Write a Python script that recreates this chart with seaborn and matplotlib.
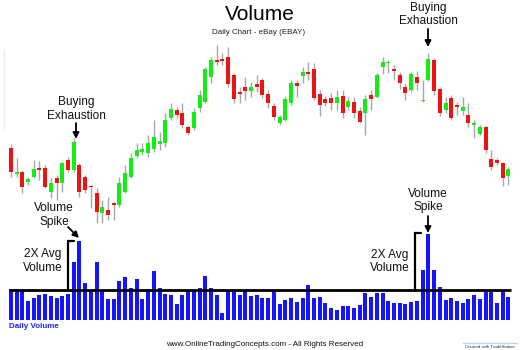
import numpy as np
import pandas as pd
import matplotlib
matplotlib.use("Agg")
import matplotlib.pyplot as plt
import seaborn as sns

# Daily OHLC prices (USD) and volume (millions of shares)
opens = [30.2, 27.6, 27.8, 26.8, 27.3, 28.2, 28.2, 25.8, 27.2, 26.7,
         29.0, 28.0, 28.5, 27.3, 26.4, 25.7, 23.7, 24.0, 24.7, 24.5,
         25.8, 27.3, 29.4, 29.8, 29.7, 30.1, 30.6, 30.7, 33.2, 34.0,
         33.7, 32.3, 32.2, 34.2, 34.8, 37.3, 39.0, 39.1, 39.3, 37.5,
         35.8, 36.3, 35.9, 36.6, 37.0, 35.6, 34.4, 32.7, 33.0, 34.7,
         36.7, 37.4, 37.8, 38.1, 35.6, 35.1, 35.2, 34.7, 35.4, 34.3,
         34.8, 33.9, 33.7, 35.5, 35.3, 38.3, 38.7, 38.1, 37.5, 36.3,
         36.0, 37.3, 34.9, 37.0, 39.0, 36.1, 34.0, 35.2, 34.5, 33.9,
         33.5, 32.5, 31.6, 32.3, 29.1, 29.0, 28.7, 27.4]
highs = [30.6, 29.2, 28.0, 27.3, 29.0, 28.9, 28.5, 27.2, 27.5, 28.8,
         29.3, 31.2, 28.7, 27.5, 26.5, 26.2, 25.0, 25.3, 24.8, 27.3,
         28.5, 29.7, 30.7, 30.7, 31.5, 33.0, 31.8, 33.7, 34.7, 34.3,
         34.7, 32.5, 34.2, 36.0, 38.3, 39.3, 40.5, 39.7, 40.3, 37.7,
         36.3, 37.3, 36.8, 37.5, 37.2, 36.0, 34.7, 33.5, 35.4, 37.0,
         37.0, 38.3, 38.8, 38.7, 36.0, 35.4, 35.7, 36.0, 36.0, 35.3,
         35.3, 34.3, 35.5, 36.0, 37.7, 39.3, 39.0, 38.5, 37.8, 36.7,
         37.8, 37.9, 37.0, 39.7, 39.2, 36.3, 35.3, 35.5, 34.8, 35.3,
         34.7, 33.0, 32.5, 32.4, 30.0, 29.2, 28.8, 28.3]
lows = [27.3, 27.3, 25.7, 26.5, 27.2, 27.0, 26.2, 25.2, 25.0, 25.8,
        27.8, 27.8, 25.3, 25.7, 24.2, 22.7, 22.7, 23.0, 23.0, 24.3,
        25.7, 27.2, 29.2, 29.5, 29.3, 29.8, 30.0, 30.3, 33.0, 33.2,
        32.2, 31.5, 32.0, 33.8, 34.7, 36.7, 38.5, 38.5, 36.3, 34.7,
        34.7, 35.0, 35.3, 35.8, 35.2, 34.2, 33.0, 32.5, 32.9, 34.5,
        35.3, 36.7, 37.0, 35.0, 33.4, 34.4, 34.0, 34.0, 33.2, 34.0,
        33.2, 32.7, 31.5, 34.0, 35.2, 37.6, 37.7, 37.0, 36.1, 35.0,
        35.8, 36.0, 34.8, 36.9, 35.5, 33.4, 33.7, 33.0, 33.5, 33.5,
        32.3, 31.2, 31.5, 29.7, 28.0, 28.5, 26.4, 26.5]
closes = [27.8, 27.8, 26.3, 27.1, 28.1, 28.0, 26.3, 26.7, 26.7, 28.7,
          28.0, 30.8, 25.8, 26.0, 26.3, 23.8, 24.3, 23.5, 24.5, 26.7,
          27.7, 29.2, 30.0, 30.1, 30.7, 31.3, 30.9, 33.0, 34.1, 33.5,
          32.5, 31.7, 33.8, 35.5, 38.1, 39.0, 38.8, 38.9, 36.6, 35.1,
          35.6, 35.9, 36.3, 36.3, 35.5, 34.7, 33.3, 33.3, 35.1, 36.7,
          36.4, 37.8, 37.6, 35.2, 34.5, 34.7, 34.7, 35.3, 33.7, 34.9,
          33.7, 32.8, 35.1, 35.1, 37.5, 38.8, 38.8, 37.9, 36.7, 35.7,
          37.6, 36.7, 35.0, 39.1, 35.9, 33.7, 34.7, 33.2, 34.3, 34.3,
          32.7, 32.7, 32.3, 30.0, 28.3, 28.7, 27.2, 28.1]
volumes = [10.3, 10.4, 10.0, 6.3, 7.4, 8.3, 8.7, 8.0, 7.3, 8.0,
           8.7, 19.4, 26.3, 12.3, 9.7, 19.3, 9.7, 7.0, 7.0, 13.0,
           14.3, 10.7, 13.7, 7.0, 10.3, 16.3, 10.7, 8.8, 8.3, 5.3,
           8.5, 9.7, 9.7, 10.7, 14.7, 10.8, 8.3, 2.3, 9.7, 9.2,
           8.2, 9.8, 8.0, 8.3, 7.4, 7.4, 9.7, 5.4, 6.7, 7.4,
           6.0, 7.3, 11.7, 7.3, 7.8, 5.7, 4.1, 3.3, 4.7, 4.7,
           4.0, 5.0, 9.1, 7.7, 9.0, 9.1, 6.3, 5.8, 5.8, 5.3,
           6.0, 6.3, 16.7, 28.8, 16.6, 11.0, 6.7, 7.3, 6.3, 5.7,
           7.0, 8.3, 7.1, 9.3, 9.3, 5.8, 10.0, 7.8]
avg_volume = 10.0

df = pd.DataFrame({"day": np.arange(len(opens)), "open": opens, "high": highs,
                   "low": lows, "close": closes, "volume": volumes})
df["up"] = df["close"] >= df["open"]

sns.set_theme(style="white")
plt.rcParams["font.family"] = ["Liberation Sans", "DejaVu Sans"]

W, H = 520, 350
fig = plt.figure(figsize=(W / 100, H / 100), dpi=100)
fig.patch.set_facecolor("white")


def box(left, top, right, bottom):
    return [left / W, 1 - bottom / H, (right - left) / W, (bottom - top) / H]


xlim = (-10.8 / 5.72, (W - 10.8) / 5.72)
last_day = df["day"].iloc[-1]

# --- price panel ---
ax_p = fig.add_axes(box(0, 30, W, 230))
GREEN, RED, WICK = "#12ee12", "#ee1212", "#a8a8a8"
ax_p.vlines(df["day"], df["low"], df["high"], color=WICK, lw=1.0, zorder=1)
body_low = np.minimum(df["open"], df["close"])
body_h = np.maximum((df["close"] - df["open"]).abs(), 0.15)
ax_p.bar(df["day"], body_h, bottom=body_low, width=0.7,
         color=np.where(df["up"], GREEN, RED), linewidth=0, zorder=2)
ax_p.set_xlim(*xlim)
ax_p.set_ylim(22, 42)
ax_p.axis("off")

# --- volume panel ---
ax_v = fig.add_axes(box(0, 225, W, 320))
sns.barplot(data=df, x="day", y="volume", native_scale=True, color="#1414ff",
            saturation=1, width=0.7, linewidth=0, errorbar=None, ax=ax_v,
            zorder=1)
ax_v.hlines(avg_volume, -0.4, last_day + 0.4, color="black", lw=2, zorder=3)
ax_v.set_xlim(*xlim)
ax_v.set_ylim(0, 95 / 3)
ax_v.axis("off")

# --- annotation layer in pixel units ---
ax_o = fig.add_axes([0, 0, 1, 1])
ax_o.set_xlim(0, W)
ax_o.set_ylim(H, 0)
ax_o.axis("off")

ax_o.plot([4, 4], [50, 130], color="#ececec", lw=1)

ax_o.text(260, 15, "Volume", ha="center", va="center", fontsize=15, color="black")
ax_o.text(259, 33, "Daily Chart - eBay (EBAY)", ha="center", va="center",
          fontsize=5.8, color="#222222")

note = dict(ha="center", va="center", fontsize=8.6, color="#111111", linespacing=1.15)
arrow = dict(arrowstyle="-|>", color="black", lw=1.3, mutation_scale=9,
             shrinkA=0, shrinkB=0)

ax_o.text(76, 109, "Buying\nExhaustion", **note)
ax_o.annotate("", xy=(76, 139), xytext=(76, 123), arrowprops=arrow)
ax_o.text(428, 14.5, "Buying\nExhaustion", **note)
ax_o.annotate("", xy=(428, 47), xytext=(428, 29), arrowprops=arrow)

ax_o.text(54, 215, "Volume\nSpike", **note)
ax_o.annotate("", xy=(79, 238), xytext=(68, 227), arrowprops=arrow)
ax_o.text(428, 200.5, "Volume\nSpike", **note)
ax_o.annotate("", xy=(428, 233), xytext=(428, 216), arrowprops=arrow)

ax_o.text(43, 261, "2X Avg\nVolume", **note)
ax_o.plot([68, 68, 74], [289, 241, 241], color="black", lw=1.6,
          solid_joinstyle="miter")
ax_o.text(390, 261.5, "2X Avg\nVolume", **note)
ax_o.plot([415, 415, 421], [289, 233, 233], color="black", lw=1.6,
          solid_joinstyle="miter")

ax_o.text(9, 327, "Daily Volume", ha="left", va="center", fontsize=5.8,
          fontweight="bold", color="#2222ff")
ax_o.text(265, 344, "www.OnlineTradingConcepts.com - All Rights Reserved",
          ha="center", va="center", fontsize=5.8, color="#111111")
ax_o.plot([463, 517], [342.5, 342.5], color="#b8d4f0", lw=1)
ax_o.text(490, 346.5, "Created with TradeStation", ha="center", va="center",
          fontsize=3.2, color="#333333")

fig.savefig("out.png", dpi=100, facecolor="white")
